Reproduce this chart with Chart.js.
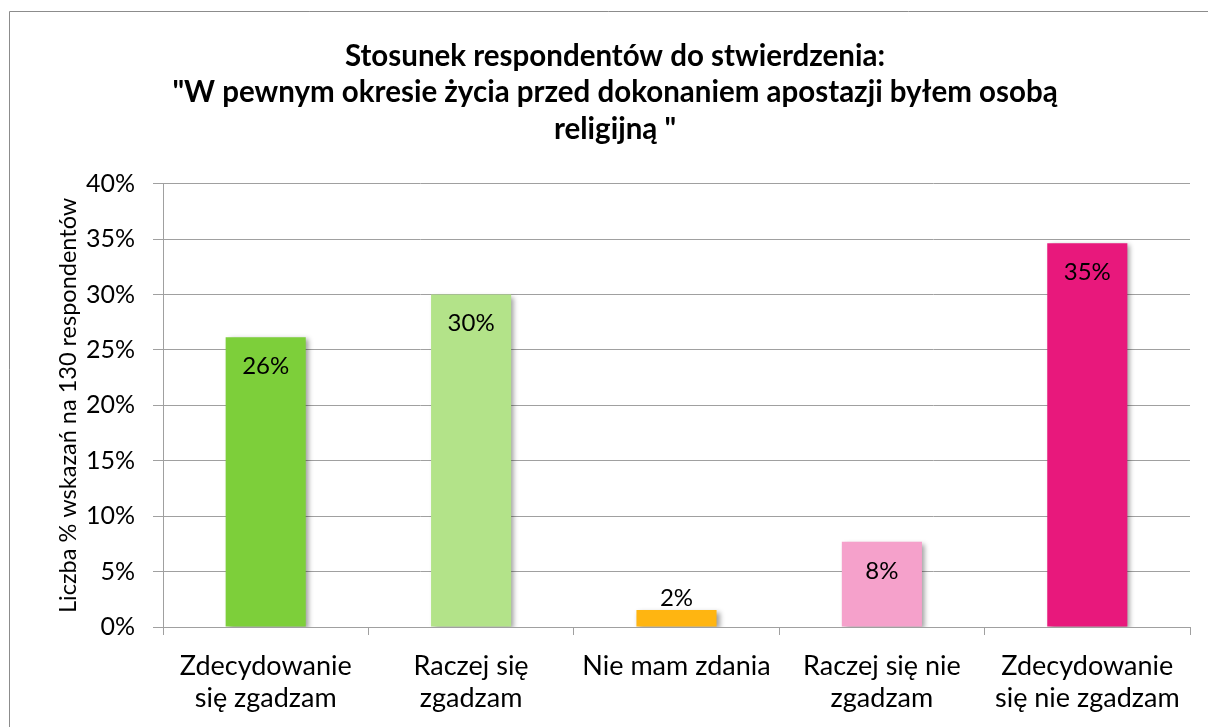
<!DOCTYPE html>
<html>
<head>
<meta charset="utf-8">
<script src="https://cdn.jsdelivr.net/npm/chart.js@4/dist/chart.umd.min.js"></script>
<style>
  html, body { margin: 0; padding: 0; background: #fff; }
  #wrap { width: 1208px; height: 727px; position: relative; }
</style>
</head>
<body>
<div id="wrap"><canvas id="chart"></canvas></div>
<script>
"use strict";

// dane z wykresu (130 respondentów)
const categories = [
    ["Zdecydowanie", "się zgadzam"],
    ["Raczej się", "zgadzam"],
    "Nie mam zdania",
    ["Raczej się nie", "zgadzam"],
    ["Zdecydowanie", "się nie zgadzam"],
];
const values = [26.15, 30.0, 1.54, 7.69, 34.62];
const valueLabels = ["26%", "30%", "2%", "8%", "35%"];
const barColors = ["#7DCF3A", "#B3E389", "#FFB511", "#F5A1CB", "#E8187C"];
const yTicks = [0, 5, 10, 15, 20, 25, 30, 35, 40];

const FONT = "Lato, 'Open Sans', sans-serif";

const framePlugin = {
    id: "frame",
    beforeDraw(chart) {
        const ctx = chart.ctx;
        ctx.save();
        ctx.fillStyle = "#fff";
        ctx.fillRect(0, 0, chart.width, chart.height);
        ctx.strokeStyle = "#8c8c8c";
        ctx.lineWidth = 1;
        ctx.beginPath();
        ctx.moveTo(9.5, chart.height);
        ctx.lineTo(9.5, 11.5);
        ctx.lineTo(chart.width, 11.5);
        ctx.stroke();
        ctx.restore();
    },
};

// cień słupków
const shadowPlugin = {
    id: "barShadow",
    beforeDatasetDraw(chart) {
        const ctx = chart.ctx;
        ctx.save();
        ctx.shadowColor = "rgba(0,0,0,0.38)";
        ctx.shadowBlur = 5;
        ctx.shadowOffsetX = 3;
        ctx.shadowOffsetY = 2;
    },
    afterDatasetDraw(chart) {
        chart.ctx.restore();
    },
};

// etykiety wartości
const labelPlugin = {
    id: "valueLabels",
    afterDatasetsDraw(chart) {
        const ctx = chart.ctx;
        const meta = chart.getDatasetMeta(0);
        ctx.save();
        ctx.font = "24px " + FONT;
        ctx.fillStyle = "#000";
        ctx.textAlign = "center";
        ctx.textBaseline = "middle";
        meta.data.forEach((bar, i) => {
            const h = bar.base - bar.y;
            const y = h < 40 ? bar.y - 12 : bar.y + 29;
            ctx.fillText(valueLabels[i], bar.x, y);
        });
        ctx.restore();
    },
};

new Chart(document.getElementById("chart"), {
    type: "bar",
    data: {
        labels: categories,
        datasets: [
            {
                data: values,
                backgroundColor: barColors,
                borderWidth: 0,
                barPercentage: 0.39,
                categoryPercentage: 1,
            },
        ],
    },
    options: {
        responsive: true,
        maintainAspectRatio: false,
        animation: false,
        layout: {
            padding: { left: 40, right: 18, top: 0, bottom: 0 },
        },
        scales: {
            x: {
                offset: true,
                grid: {
                    offset: true,
                    drawOnChartArea: false,
                    drawTicks: true,
                    tickLength: 8,
                    color: "#a0a0a0",
                },
                border: { color: "#a0a0a0" },
                ticks: {
                    color: "#000",
                    font: { family: FONT, size: 27, lineHeight: 1.185 },
                    padding: 15,
                    maxRotation: 0,
                    autoSkip: false,
                },
                afterFit(scale) {
                    scale.height = 100;
                },
            },
            y: {
                min: 0,
                max: 40,
                afterBuildTicks(scale) {
                    scale.ticks = yTicks.map((v) => ({ value: v }));
                },
                grid: {
                    color: "#a0a0a0",
                    tickLength: 10,
                },
                border: { color: "#a0a0a0" },
                ticks: {
                    color: "#000",
                    font: { family: FONT, size: 25 },
                    padding: 18,
                    callback: (v) => v + "%",
                },
                title: {
                    display: true,
                    text: "Liczba % wskazań na 130 respondentów",
                    color: "#000",
                    font: { family: FONT, size: 23.5 },
                    padding: { top: 14, bottom: 0 },
                },
                afterFit(scale) {
                    scale.width = 123;
                },
            },
        },
        plugins: {
            legend: { display: false },
            tooltip: { enabled: false },
            title: {
                display: true,
                text: [
                    "Stosunek respondentów do stwierdzenia:",
                    "\"W pewnym okresie życia przed dokonaniem apostazji byłem osobą",
                    "religijną \"",
                ],
                color: "#000",
                font: { family: FONT, size: 29.5, weight: "bold", lineHeight: 1.24 },
                padding: { top: 38, bottom: 36 },
            },
        },
    },
    plugins: [framePlugin, shadowPlugin, labelPlugin],
});
</script>
</body>
</html>
